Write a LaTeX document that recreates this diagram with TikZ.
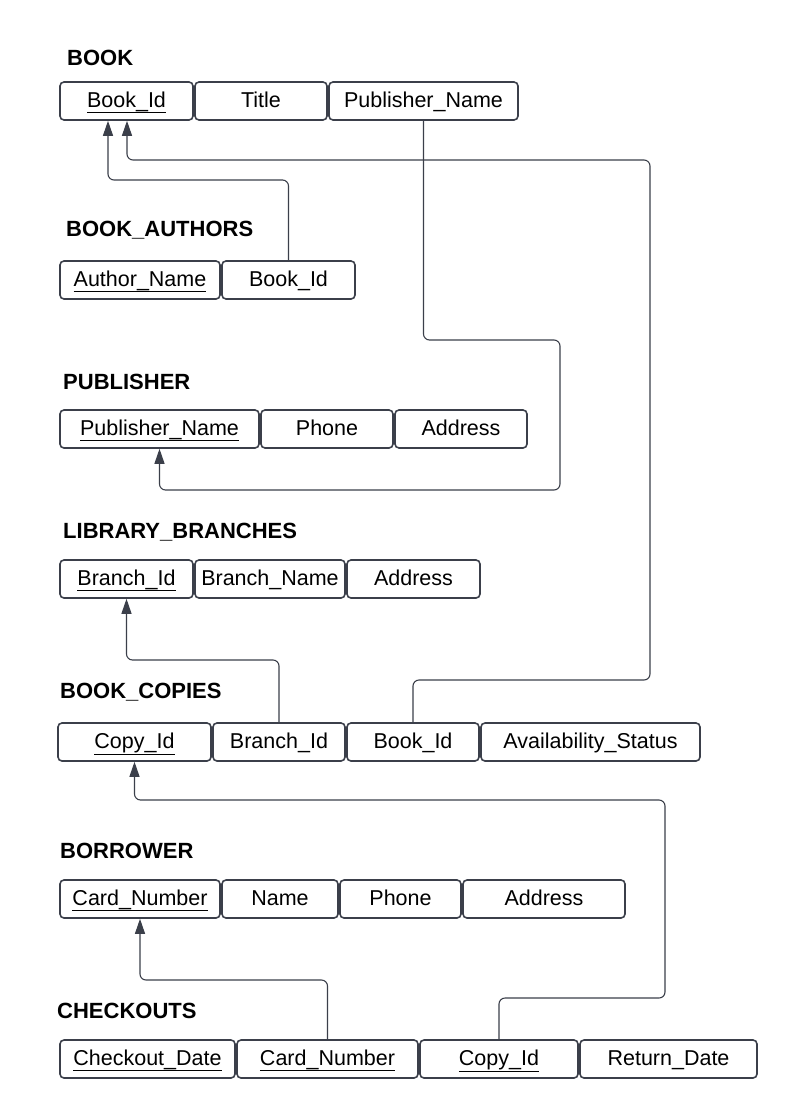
\documentclass[tikz,border=0pt]{standalone}
\usepackage{fontspec}
\setmainfont{Liberation Sans}
\usetikzlibrary{arrows.meta}
\definecolor{edge}{HTML}{3B3F4A}
\tikzset{
  cell/.style={draw=edge, line width=1.6pt, rounded corners=4pt, minimum height=38pt, inner sep=0pt,
    text height=12pt, text depth=0pt,
    font=\fontsize{21.5}{25}\selectfont, text=black},
  ttl/.style={anchor=base west, inner sep=0pt, font=\fontsize{22}{26}\selectfont\bfseries, text=black},
  fk/.style={draw=edge, line width=1.1pt, rounded corners=6pt, -{Triangle[length=15pt,width=10pt]}}
}
\newcommand\erbox[5]{\node[cell, minimum width={(#3-#2)*1pt}] (#1) at ({(#2+#3)/2},#4) {#5};}
\begin{document}
\begin{tikzpicture}[x=1pt,y=-1pt]
\useasboundingbox (0,0) rectangle (798,1119);
% BOOK
\node[ttl] (tbook) at (67,65) {BOOK};
\erbox{b1}{60}{193}{101}{\underline{Book\_Id}}
\erbox{b2}{195}{327}{101}{Title}
\erbox{b3}{329}{518}{101}{Publisher\_Name}
% BOOK_AUTHORS
\node[ttl] (tba) at (66,236) {BOOK\_AUTHORS};
\erbox{ba1}{60}{220}{280}{\underline{Author\_Name}}
\erbox{ba2}{222}{355}{280}{Book\_Id}
% PUBLISHER
\node[ttl] (tp) at (63,389) {PUBLISHER};
\erbox{p1}{60}{259}{429}{\underline{Publisher\_Name}}
\erbox{p2}{261}{393}{429}{Phone}
\erbox{p3}{395}{527}{429}{Address}
% LIBRARY_BRANCHES
\node[ttl] (tlb) at (63,538) {LIBRARY\_BRANCHES};
\erbox{lb1}{60}{193}{579}{\underline{Branch\_Id}}
\erbox{lb2}{195}{345}{579}{Branch\_Name}
\erbox{lb3}{347}{480}{579}{Address}
% BOOK_COPIES
\node[ttl] (tbc) at (60,698) {BOOK\_COPIES};
\erbox{bc1}{58}{211}{742}{\underline{Copy\_Id}}
\erbox{bc2}{213}{345}{742}{Branch\_Id}
\erbox{bc3}{347}{479}{742}{Book\_Id}
\erbox{bc4}{481}{700}{742}{Availability\_Status}
% BORROWER
\node[ttl] (tbr) at (60,858) {BORROWER};
\erbox{br1}{60}{220}{899}{\underline{Card\_Number}}
\erbox{br2}{222}{338}{899}{Name}
\erbox{br3}{340}{461}{899}{Phone}
\erbox{br4}{463}{625}{899}{Address}
% CHECKOUTS
\node[ttl] (tco) at (57,1018) {CHECKOUTS};
\erbox{co1}{60}{235}{1059}{\underline{Checkout\_Date}}
\erbox{co2}{237}{418}{1059}{\underline{Card\_Number}}
\erbox{co3}{420}{578}{1059}{\underline{Copy\_Id}}
\erbox{co4}{580}{757}{1059}{Return\_Date}
% connectors
\draw[fk] (ba2.north) -- (ba2.north |- 0,180) -| ([xshift=-18.5pt]b1.south);
\draw[fk] (bc3.north) -- (bc3.north |- 0,680) -- (650,680) -- (650,160) -| ([xshift=0.5pt]b1.south);
\draw[fk] (b3.south) -- (b3.south |- 0,340) -- (560,340) -- (560,490) -| (p1.south);
\draw[fk] (bc2.north) -- (bc2.north |- 0,660) -| (lb1.south);
\draw[fk] (co3.north) -- (co3.north |- 0,998) -- (665,998) -- (665,800) -| (bc1.south);
\draw[fk] (co2.north) -- (co2.north |- 0,980) -| (br1.south);
\end{tikzpicture}
\end{document}
